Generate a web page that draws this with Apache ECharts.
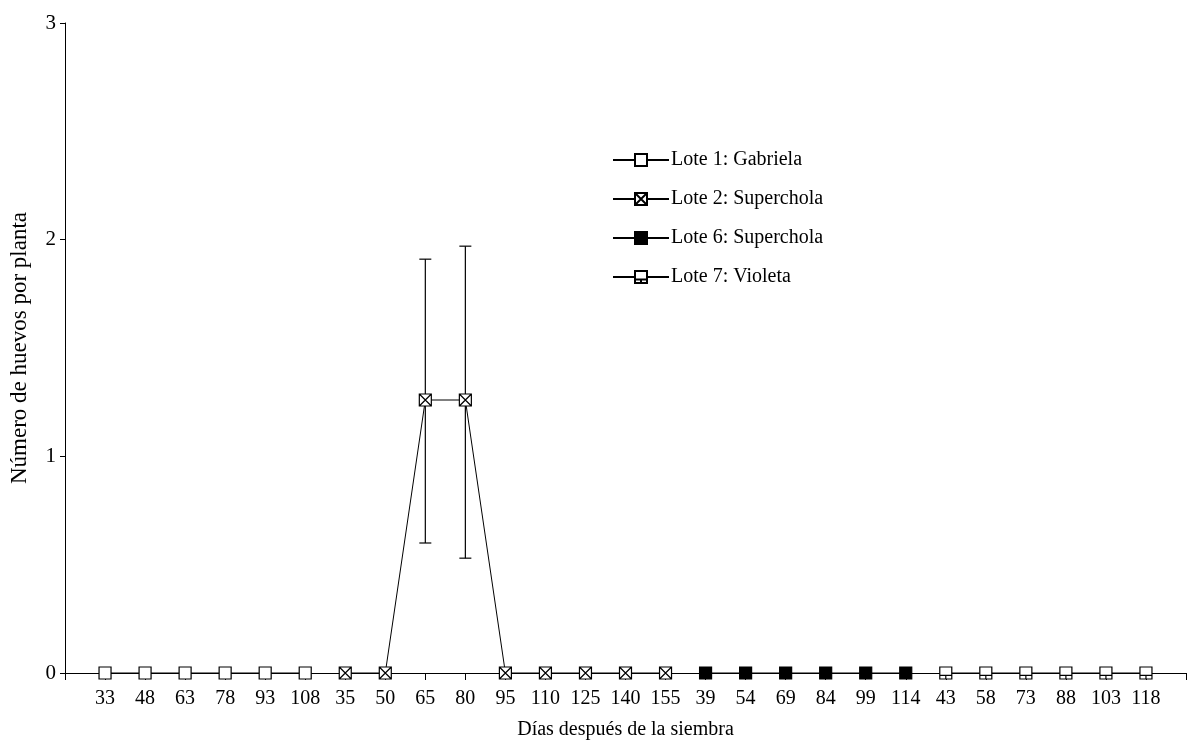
<!DOCTYPE html>
<html><head><meta charset="utf-8">
<script src="https://cdn.jsdelivr.net/npm/echarts@6/dist/echarts.min.js"></script>
<style>html,body{margin:0;padding:0;background:#fff}#c{width:1192px;height:745px}</style>
</head><body><div id="c"></div>
<script>
const lote1Days = ['33','48','63','78','93','108'];
const lote2Days = ['35','50','65','80','95','110','125','140','155'];
const lote6Days = ['39','54','69','84','99','114'];
const lote7Days = ['43','58','73','88','103','118'];
const lote1 = [0,0,0,0,0,0];
const lote2 = [0,0,1.26,1.26,0,0,0,0,0];
const lote2Low = [null,null,0.60,0.53,null,null,null,null,null];
const lote2High = [null,null,1.91,1.97,null,null,null,null,null];
const lote6 = [0,0,0,0,0,0];
const lote7 = [0,0,0,0,0,0];
const yTicks = [0,1,2,3];

const categories = [''].concat(lote1Days, lote2Days, lote6Days, lote7Days, ['']);
const FONT = 'Liberation Serif';
function pairs(vals, offset){ return vals.map((v,i)=>[offset+i, v]); }
const off1 = 1, off2 = off1+lote1Days.length, off6 = off2+lote2Days.length, off7 = off6+lote6Days.length;

const SYM_OPEN = 'path://M0,0L10,0L10,10L0,10Z';
const SYM_X = 'path://M0,0L10,0L10,10L0,10Z M0,0L10,10 M10,0L0,10';
const SYM_V = 'path://M0,0L10,0L10,10L0,10Z M0,7L10,7 M5,7L5,10';

function lineSeries(name, data, symbol, fill){
  return {
    name, type:'line', data, symbol, symbolSize:12, showAllSymbol:true,
    lineStyle:{color:'#000', width:1},
    itemStyle:{color:fill, borderColor:'#000', borderWidth:1.2},
    emphasis:{disabled:true}, z:3
  };
}
const errData = [];
lote2.forEach((v,i)=>{ if(lote2Low[i]!=null) errData.push([off2+i, lote2Low[i], lote2High[i]]); });

const chart = echarts.init(document.getElementById('c'), null, {renderer:'canvas'});
chart.setOption({
  animation:false,
  backgroundColor:'#fff',
  grid:{left:64, right:6, top:23, bottom:62, containLabel:false},
  legend:{
    orient:'vertical', left:612, top:150, padding:0, itemWidth:56, itemHeight:15, itemGap:19,
    textStyle:{fontFamily:FONT, fontSize:20, color:'#000', padding:[0,0,0,-3]},
    data:['Lote 1: Gabriela','Lote 2: Superchola','Lote 6: Superchola','Lote 7: Violeta']
  },
  xAxis:{
    type:'category', data:categories, boundaryGap:false,
    name:'Días después de la siembra', nameLocation:'middle', nameGap:47,
    nameTextStyle:{fontFamily:FONT, fontSize:20, color:'#000'},
    axisLine:{lineStyle:{color:'#000', width:1}},
    axisTick:{show:true, interval:0, length:7, lineStyle:{color:'#000'}},
    axisLabel:{interval:0, fontFamily:FONT, fontSize:20, color:'#000', margin:16},
    splitLine:{show:false}
  },
  yAxis:{
    type:'value', min:0, max:3, interval:1,
    name:'Número de huevos por planta', nameLocation:'middle', nameGap:34,
    nameTextStyle:{fontFamily:FONT, fontSize:23, color:'#000'},
    axisLine:{show:true, lineStyle:{color:'#000', width:1}},
    axisTick:{show:true, length:5, lineStyle:{color:'#000'}},
    axisLabel:{fontFamily:FONT, fontSize:21, color:'#000', margin:9,
      formatter:v=>yTicks.includes(v)?String(v):''},
    splitLine:{show:false}
  },
  series:[
    lineSeries('Lote 1: Gabriela', pairs(lote1, off1), SYM_OPEN, '#fff'),
    lineSeries('Lote 2: Superchola', pairs(lote2, off2), SYM_X, '#fff'),
    lineSeries('Lote 6: Superchola', pairs(lote6, off6), SYM_OPEN, '#000'),
    lineSeries('Lote 7: Violeta', pairs(lote7, off7), SYM_V, '#fff'),
    {
      type:'custom', data:errData, z:2, silent:true,
      renderItem:function(params, api){
        const x = api.value(0);
        const lo = api.coord([x, api.value(1)]);
        const hi = api.coord([x, api.value(2)]);
        const w = 6;
        const st = {stroke:'#000', lineWidth:1.2};
        return {type:'group', children:[
          {type:'line', shape:{x1:lo[0], y1:lo[1], x2:hi[0], y2:hi[1]}, style:st},
          {type:'line', shape:{x1:lo[0]-w, y1:lo[1], x2:lo[0]+w, y2:lo[1]}, style:st},
          {type:'line', shape:{x1:hi[0]-w, y1:hi[1], x2:hi[0]+w, y2:hi[1]}, style:st}
        ]};
      }
    }
  ]
});
</script></body></html>
